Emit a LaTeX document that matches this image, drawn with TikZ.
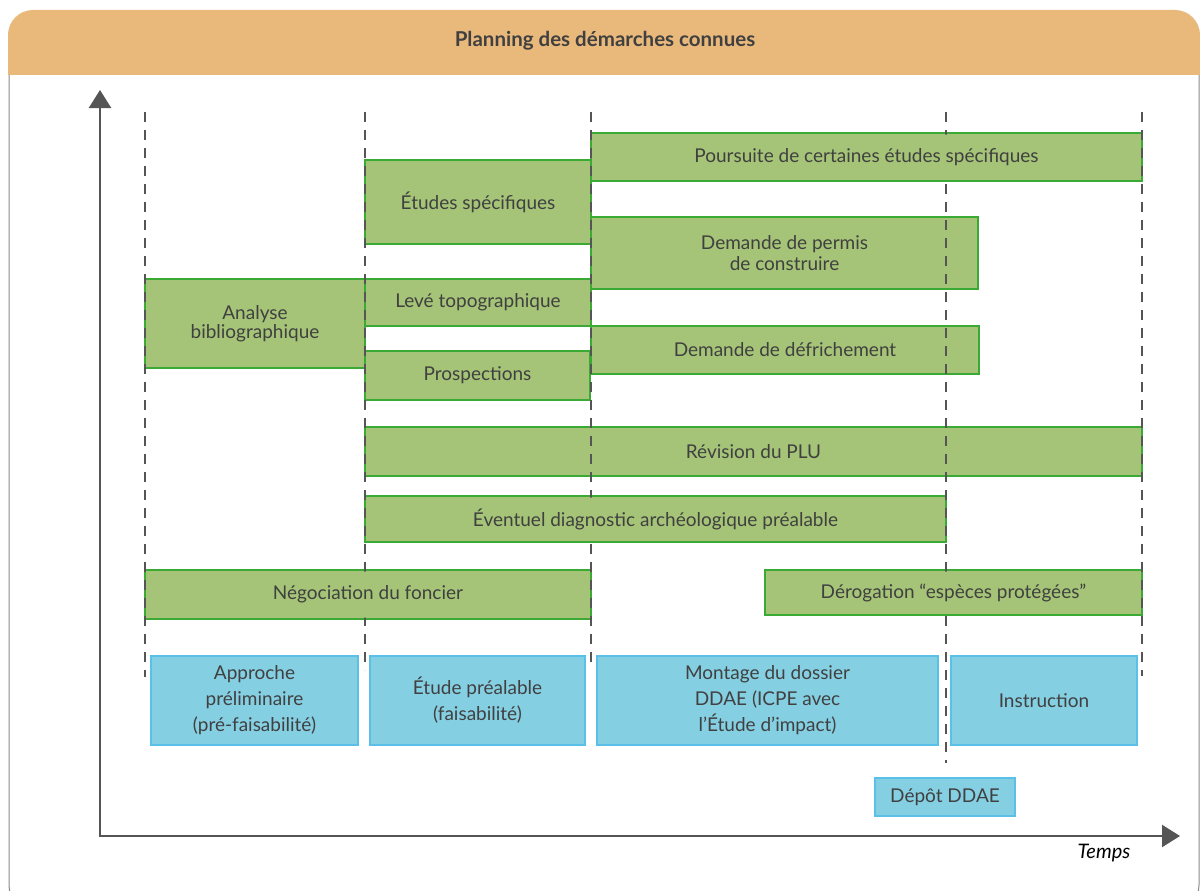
\documentclass[tikz,border=0pt]{standalone}
\usepackage{fontspec}
\setmainfont{Lato}
\usetikzlibrary{arrows.meta}
\definecolor{hdr}{HTML}{E9B87B}
\definecolor{gfill}{HTML}{A5C477}
\definecolor{gline}{HTML}{3AAA35}
\definecolor{bfill}{HTML}{85CFE3}
\definecolor{bline}{HTML}{5BC0E8}
\definecolor{txt}{HTML}{404040}
\definecolor{axis}{HTML}{555555}
\definecolor{frame}{HTML}{8A8A8A}
\tikzset{
  gbar/.style={draw=gline, fill=gfill, line width=2pt, inner sep=0pt, outer sep=0pt,
    anchor=north west, align=center, text=txt, font=\fontsize{19}{19}\selectfont},
  bbox/.style={draw=bline, fill=bfill, line width=2pt, inner sep=0pt, outer sep=0pt,
    anchor=north west, align=center, text=txt, font=\fontsize{19}{26}\selectfont},
  guide/.style={draw=axis, line width=2pt, dash pattern=on 10pt off 8pt},
}
\newcommand\barin[1]{([xshift=1.5pt,yshift=-1.5pt]#1.north west) rectangle ([xshift=-1.5pt,yshift=1.5pt]#1.south east)}
\begin{document}
\begin{tikzpicture}[x=1pt,y=-1pt]
\useasboundingbox (0,0) rectangle (1200,891);
% frame
\begin{scope}
\clip (0,0) rectangle (1200,891);
\draw[frame, line width=1pt, rounded corners=25] (9,12) rectangle (1199,910);
\fill[hdr] (8,75) {[rounded corners=25] -- (8,10) -- (1200,10)} -- (1200,75) -- cycle;
\end{scope}
\node[font=\bfseries\fontsize{20.5}{22}\selectfont, text=txt] (title) at (605,41) {Planning des démarches connues};
% axes
\coordinate (ytip) at (100,90);
\coordinate (xtip) at (1180,836);
\draw[axis, line width=2.5pt, {Triangle[width=22pt,length=18pt]}-{Triangle[width=22pt,length=18pt]}] (ytip) |- (xtip);
\node[font=\itshape\fontsize{20}{22}\selectfont, text=black] (temps) at (1104,853) {Temps};
% green bars
\node[gbar, minimum width=551, minimum height=48] (b1) at (591,133) {Poursuite de certaines études spécifiques};
\node[gbar, minimum width=226, minimum height=84] (b2) at (365,160) {Études spécifiques};
\node[gbar, minimum width=387, minimum height=72, font=\fontsize{19}{21}\selectfont] (b3) at (591,217) {Demande de permis\\de construire};
\node[gbar, minimum width=220, minimum height=89] (b4) at (145,279) {Analyse\\bibliographique};
\node[gbar, minimum width=226, minimum height=47] (b5) at (365,279) {Levé topographique};
\node[gbar, minimum width=388, minimum height=48] (b6) at (591,326) {Demande de défrichement};
\node[gbar, minimum width=225, minimum height=49] (b7) at (365,351) {Prospections};
\node[gbar, minimum width=777, minimum height=49] (b8) at (365,427) {Révision du PLU};
\node[gbar, minimum width=581, minimum height=46] (b9) at (365,496) {Éventuel diagnostic archéologique préalable};
\node[gbar, minimum width=446, minimum height=49] (b10) at (145,570) {Négociation du foncier};
\node[gbar, minimum width=377, minimum height=45] (b11) at (765,570) {Dérogation “espèces protégées”};
% guides (hidden inside some bars)
\begin{scope}[even odd rule]
\clip (0,0) rectangle (1200,891) \barin{b1} \barin{b9} \barin{b10} \barin{b11};
\foreach \x/\yb in {145/677, 365/670, 591/668, 946/763, 1142/676}
  \draw[guide] (\x,112) -- (\x,\yb);
\end{scope}
% blue boxes
\node[bbox, minimum width=207, minimum height=89] (p1) at (151,656) {Approche\\préliminaire\\(pré-faisabilité)};
\node[bbox, minimum width=215, minimum height=89] (p2) at (370,656) {Étude préalable\\(faisabilité)};
\node[bbox, minimum width=341, minimum height=89] (p3) at (597,656) {Montage du dossier\\DDAE (ICPE avec\\l’Étude d’impact)};
\node[bbox, minimum width=186, minimum height=89] (p4) at (951,656) {Instruction};
\node[bbox, minimum width=140, minimum height=38] (p5) at (875,778) {Dépôt DDAE};
\end{tikzpicture}
\end{document}
